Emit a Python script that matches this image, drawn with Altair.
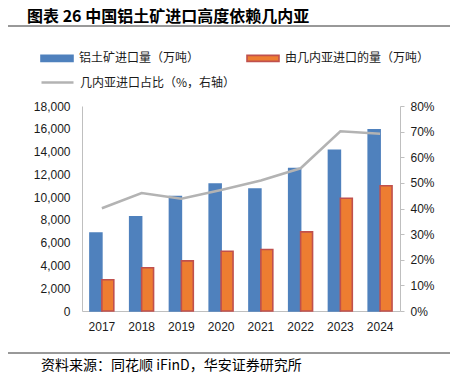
import altair as alt
import pandas as pd

years = ["2017", "2018", "2019", "2020", "2021", "2022", "2023", "2024"]
total_import = [6850, 8270, 10050, 11150, 10700, 12500, 14100, 15900]
guinea_import = [2750, 3800, 4400, 5250, 5400, 6950, 9900, 11000]
guinea_share = [40.1, 46.0, 43.8, 47.2, 50.9, 55.7, 70.1, 69.2]

s_total = "铝土矿进口量（万吨）"
s_guinea = "由几内亚进口的量（万吨）"
s_share = "几内亚进口占比（%，右轴）"
title_text = "图表 26  中国铝土矿进口高度依赖几内亚"
source_text = "资料来源：同花顺 iFinD，华安证券研究所"

left_ticks = list(range(0, 18001, 2000))
right_ticks = list(range(0, 81, 10))

bars_df = pd.DataFrame({
    "year": years * 2,
    "series": [s_total] * len(years) + [s_guinea] * len(years),
    "value": total_import + guinea_import,
})
line_df = pd.DataFrame({"year": years, "share": guinea_share,
                        "series": [s_share] * len(years)})

CJK = "Noto Sans CJK SC"
LAT = "Liberation Sans"
AXIS_GRAY = "#BFBFBF"
LABEL_COLOR = "#1a1a1a"
GRAY_LINE = "#B3B3B3"

x_enc = alt.X(
    "year:N",
    sort=years,
    scale=alt.Scale(paddingInner=0.4, paddingOuter=0.2),
    axis=alt.Axis(title=None, labelAngle=0, tickSize=0, domainColor=AXIS_GRAY,
                  labelFont=LAT, labelFontSize=12, labelColor=LABEL_COLOR,
                  labelPadding=10),
)

thick = "M-1,-0.19H1V0.19H-1Z"

bars = alt.Chart(bars_df).mark_bar(strokeWidth=1.6).encode(
    x=x_enc,
    xOffset=alt.XOffset("series:N", sort=[s_total, s_guinea],
                        scale=alt.Scale(paddingInner=0, paddingOuter=0)),
    y=alt.Y("value:Q",
            scale=alt.Scale(domain=[0, 18000], nice=False),
            axis=alt.Axis(title=None, values=left_ticks, grid=False, tickSize=0,
                          domainColor=AXIS_GRAY, labelFont=LAT, labelFontSize=12,
                          labelColor=LABEL_COLOR, labelPadding=12)),
    color=alt.Color("series:N",
                    scale=alt.Scale(domain=[s_total, s_guinea],
                                    range=["#4F81BD", "#ED7D31"]),
                    legend=alt.Legend(
                        title=None, orient="none", legendX=-42, legendY=-65,
                        columns=2, columnPadding=43, values=[s_total, s_guinea],
                        symbolType=thick, symbolSize=1024, symbolStrokeWidth=1.6,
                        labelFont=CJK, labelFontSize=12, labelColor=LABEL_COLOR,
                        labelOffset=5, labelLimit=0,
                    )),
    stroke=alt.Stroke("series:N",
                      scale=alt.Scale(domain=[s_total, s_guinea],
                                      range=["#4F81BD", "#C0504D"]),
                      legend=None),
)

line = alt.Chart(line_df).mark_line(strokeWidth=2.5).encode(
    x=alt.X("year:N", sort=years),
    y=alt.Y("share:Q",
            scale=alt.Scale(domain=[0, 80], nice=False),
            axis=alt.Axis(title=None, orient="right", values=right_ticks, grid=False,
                          tickSize=4, tickColor=AXIS_GRAY, domainColor=AXIS_GRAY,
                          labelFont=LAT, labelFontSize=12, labelColor=LABEL_COLOR,
                          labelPadding=6, labelExpr="datum.value + '%'")),
    color=alt.Color("series:N",
                    scale=alt.Scale(domain=[s_share], range=[GRAY_LINE]),
                    legend=alt.Legend(
                        title=None, orient="none", legendX=-42, legendY=-41,
                        symbolType="stroke", symbolSize=1024, symbolStrokeWidth=2.5,
                        labelFont=CJK, labelFontSize=12, labelColor=LABEL_COLOR,
                        labelOffset=5, labelLimit=0,
                    )),
)

one = pd.DataFrame({"t": [0]})

title = alt.Chart(pd.DataFrame({"t": [title_text]})).mark_text(
    font=CJK, fontSize=16, fontWeight="bold", align="left", baseline="middle",
    color="#000000").encode(text="t:N", x=alt.value(-55), y=alt.value(-89))

top_rule = alt.Chart(one).mark_rule(color="#333333", strokeWidth=1).encode(
    x=alt.value(-82), x2=alt.value(371), y=alt.value(-80))

bottom_rule = alt.Chart(one).mark_rule(color="#333333", strokeWidth=1).encode(
    x=alt.value(-82), x2=alt.value(371), y=alt.value(247))

source = alt.Chart(pd.DataFrame({"t": [source_text]})).mark_text(
    font=CJK, fontSize=14, align="left", baseline="middle",
    color="#000000").encode(text="t:N", x=alt.value(-41), y=alt.value(260))

chart = alt.layer(bars, line, title, top_rule, bottom_rule, source).resolve_scale(
    y="independent", color="independent", stroke="independent"
).properties(
    width=318, height=205,
    autosize=alt.AutoSizeParams(type="none"),
    padding={"left": 74, "top": 98, "right": 50, "bottom": 69},
).configure_view(stroke=None)

chart.save("out.html", embed_options={"renderer": "svg", "actions": False})
